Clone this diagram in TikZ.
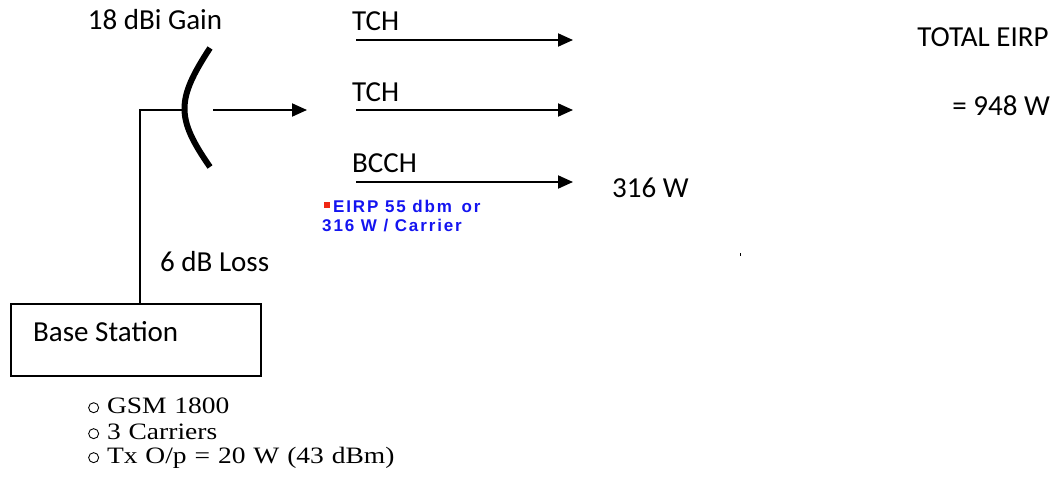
\documentclass[tikz,border=0pt]{standalone}
\usepackage{fontspec}
\setmainfont{Carlito}
\newfontfamily\labelfont{Carlito}
\newfontfamily\notefont[LetterSpace=11]{Liberation Sans}
\newfontfamily\specfont[FakeStretch=1.17,WordSpace=1.15]{Liberation Serif}
\usetikzlibrary{arrows.meta}
\definecolor{noteblue}{RGB}{20,20,240}
\definecolor{notered}{RGB}{240,40,20}
\tikzset{
  lbl/.style={inner sep=0pt, font=\labelfont\fontsize{29}{34}\selectfont},
  chan/.style={line width=2pt, -{Triangle[length=15pt,width=13pt]}},
  feed/.style={line width=1.5pt},
  note/.style={inner sep=0pt, text=noteblue, font=\notefont\bfseries\fontsize{17}{21}\selectfont},
  spec/.style={inner sep=0pt, anchor=west, font=\specfont\fontsize{23.5}{26}\selectfont},
}
\newcommand{\specitem}{\raisebox{0.5pt}{\tikz[baseline]\draw[line width=0.9pt] (0,5.5pt) circle (5pt);}\ }
\begin{document}
\begin{tikzpicture}[x=1pt,y=-1pt]
\useasboundingbox (0,0) rectangle (1057,487);

% antenna reflector
\draw[line width=6pt] (210,48) .. controls (176,100) and (176,118) .. (210,167);
\coordinate (ant) at (184,110);
\coordinate (bend) at (140,110);

% base station
\node[draw, line width=1.5pt, minimum width=250pt, minimum height=72pt, anchor=north west, inner sep=0pt] (bs) at (10,303) {};
\node[lbl, anchor=west] (bslbl) at (33,332) {Base Station};
\draw[feed] (bs.north -| bend) -- (bend) -- (ant);

% labels
\node[lbl] (gain) at (155,20) {18 dBi Gain};
\node[lbl, anchor=west] (loss) at (160,262) {6 dB Loss};

% radiated beam
\coordinate (b0) at (213,110);
\coordinate (b1) at (307,110);
\draw[chan] (b0) -- (b1);

% carriers
\coordinate (t1a) at (356,40);  \coordinate (t1b) at (573,40);
\coordinate (t2a) at (356,110); \coordinate (t2b) at (573,110);
\coordinate (t3a) at (356,182); \coordinate (t3b) at (573,182);
\draw[chan] (t1a) -- (t1b);
\draw[chan] (t2a) -- (t2b);
\draw[chan] (t3a) -- (t3b);
\node[lbl, anchor=west] (tch1) at (352,21) {TCH};
\node[lbl, anchor=west] (tch2) at (352,92) {TCH};
\node[lbl, anchor=west] (bcch) at (352,163) {BCCH};
\node[lbl, anchor=west] (w316) at (612,188) {316 W};

% total
\node[lbl] (total) at (983,37) {TOTAL EIRP};
\node[lbl, anchor=east] (sum) at (1050,106) {= 948 W};

% carrier power note
\fill[notered] (324,202) rectangle (330,208);
\node[note, anchor=west] (note1) at (333,206) {EIRP 55 dbm\, or};
\node[note, anchor=west] (note2) at (322,226) {316 W / Carrier};

\fill (739.5,253) rectangle (740.5,256);

% specifications
\node[spec] (s1) at (88,406) {\specitem GSM 1800};
\node[spec] (s2) at (88,432) {\specitem 3 Carriers};
\node[spec] (s3) at (88,458) {\specitem Tx O/p = 20 W (43 dBm)};
\end{tikzpicture}
\end{document}
